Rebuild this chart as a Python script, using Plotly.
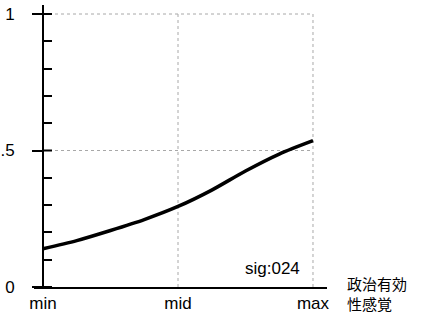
import plotly.graph_objects as go

# Predicted probability across the range of political efficacy
x_pos = [0, 1, 2, 3, 4, 5, 6, 7, 8]
prob = [0.140, 0.170, 0.207, 0.247, 0.295, 0.355, 0.425, 0.487, 0.536]

x_tickvals = [0, 4, 8]
x_ticktext = ["min", "mid", "max"]
y_major = [0, 0.5, 1]
y_major_text = ["0", ".5", "1"]
y_minor = [0.1, 0.2, 0.3, 0.4, 0.6, 0.7, 0.8, 0.9]

x_title = "政治有効<br>性感覚"
note = "sig:024"

FONT = "Liberation Sans, Arial, sans-serif"
CJK = "Noto Sans CJK JP, sans-serif"

fig = go.Figure()
fig.add_trace(go.Scatter(
    x=x_pos, y=prob, mode="lines",
    line=dict(color="black", width=3.5, shape="spline", smoothing=0.8),
    hoverinfo="skip", showlegend=False,
))

x_lo, x_hi = -0.267, 8.415
y_lo, y_hi = 0.0, 1.033

shapes = []
# dotted reference grid inside the data region
for xv in x_tickvals[1:]:
    shapes.append(dict(type="line", xref="x", yref="y", x0=xv, x1=xv,
                       y0=0, y1=1, layer="below",
                       line=dict(color="#a8a8a8", width=1, dash="dot")))
for yv in y_major[1:]:
    shapes.append(dict(type="line", xref="x", yref="y", x0=0, x1=x_tickvals[-1],
                       y0=yv, y1=yv, layer="below",
                       line=dict(color="#a8a8a8", width=1, dash="dot")))
# inner half of the major y ticks (they cross the axis)
inner = 9 / 33.75
for yv in y_major:
    shapes.append(dict(type="line", xref="x", yref="y", x0=0, x1=inner,
                       y0=yv, y1=yv, line=dict(color="black", width=2)))

ypos = (0 - x_lo) / (x_hi - x_lo)

fig.update_layout(
    width=421, height=320,
    margin=dict(l=34, r=94, t=5, b=33),
    paper_bgcolor="white", plot_bgcolor="white",
    font=dict(family=FONT, size=17, color="black"),
    showlegend=False,
    shapes=shapes,
    xaxis=dict(
        range=[x_lo, x_hi], showgrid=False, zeroline=False, automargin=False,
        showline=True, linecolor="black", linewidth=2,
        tickvals=x_tickvals, ticktext=x_ticktext, ticks="",
        tickfont=dict(family=FONT, size=17, color="black"),
    ),
    yaxis=dict(
        range=[y_lo, y_hi], showgrid=False, zeroline=False, automargin=False,
        anchor="free", position=ypos,
        showline=True, linecolor="black", linewidth=2,
        tickvals=y_major, ticktext=y_major_text,
        ticks="outside", ticklen=10, tickwidth=2, tickcolor="black",
        ticklabelstandoff=14,
        tickfont=dict(family=FONT, size=17, color="black"),
        minor=dict(tickvals=y_minor, ticks="inside", ticklen=8,
                   tickwidth=2, tickcolor="black", showgrid=False),
    ),
    annotations=[
        dict(text=note, xref="x", yref="y", x=6.8, y=0.068,
             showarrow=False, xanchor="center", yanchor="middle",
             font=dict(family=FONT, size=17, color="black")),
        dict(text=x_title, xref="paper", yref="paper", x=1.06, y=-0.024,
             showarrow=False, xanchor="left", yanchor="middle", align="left",
             font=dict(family=CJK, size=15, color="black")),
    ],
)

fig.write_html("out.html")
